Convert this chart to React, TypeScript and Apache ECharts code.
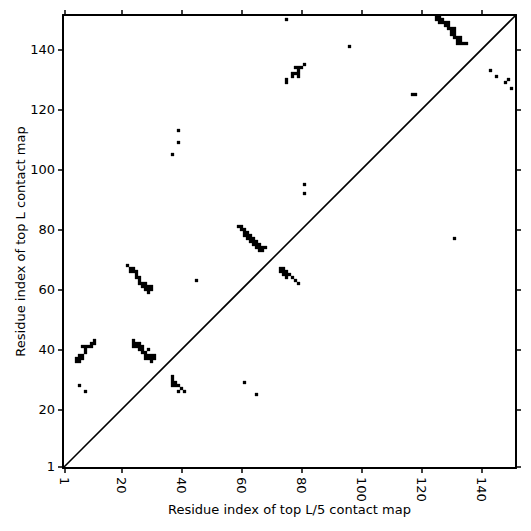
import React, { useEffect, useRef } from "react";
import * as echarts from "echarts";

// Residue count and axis range
const L = 151;
const tickValues = [1, 20, 40, 60, 80, 100, 120, 140];
const xAxisTitle = "Residue index of top L/5 contact map";
const yAxisTitle = "Residue index of top L contact map";

// Top L contacts [i, j] (i < j), drawn above the diagonal at (x=i, y=j)
const topLContacts: [number, number][] = [
  // cluster near (8, 40)
  [5, 36], [6, 36], [5, 37], [6, 37], [7, 37], [6, 38], [7, 38],
  [8, 39], [8, 40], [8, 41], [7, 41], [9, 41], [10, 41], [10, 42], [11, 42], [11, 43],
  // cluster near (27, 40)
  [24, 43], [24, 42], [25, 42], [26, 42], [24, 41], [25, 41], [26, 41], [27, 41],
  [26, 40], [27, 40], [27, 39], [28, 39], [29, 40], [28, 38], [29, 38], [30, 38],
  [28, 37], [29, 37], [30, 37], [31, 37], [31, 38], [30, 36],
  // cluster near (26, 64)
  [22, 68], [23, 67], [24, 67], [23, 66], [24, 66], [25, 66], [25, 65], [25, 64], [26, 64],
  [26, 63], [26, 62], [27, 62], [28, 62], [27, 61], [28, 61], [29, 61], [30, 61], [29, 60],
  [30, 60], [28, 60], [29, 59],
  // cluster near (63, 77)
  [59, 81], [60, 81], [60, 80], [61, 80], [61, 79], [62, 79], [61, 78], [62, 78], [63, 78],
  [62, 77], [63, 77], [64, 77], [63, 76], [64, 76], [65, 76], [64, 75], [65, 75], [66, 75],
  [65, 74], [66, 74], [67, 74], [66, 73], [67, 73], [68, 74],
  // cluster near (78, 132)
  [81, 135], [78, 134], [79, 134], [80, 134], [79, 133], [77, 132], [78, 132],
  [79, 132], [77, 131], [79, 131], [75, 130], [75, 129],
  // cluster near (130, 146)
  [125, 151], [126, 151], [125, 150], [126, 150], [127, 150], [126, 149], [127, 149],
  [128, 149], [129, 149], [128, 148], [129, 148], [129, 147], [130, 147], [131, 147],
  [130, 146], [131, 146], [130, 145], [131, 145], [131, 144], [132, 144], [133, 144],
  [132, 143], [133, 143], [132, 142], [133, 142], [134, 142], [135, 142],
  // isolated contacts
  [75, 150], [96, 141], [117, 125], [118, 125], [81, 95], [81, 92], [37, 105],
  [39, 109], [39, 113], [45, 63], [6, 28], [8, 26],
];

// Top L/5 contacts [i, j] (i < j), drawn below the diagonal at (x=j, y=i)
const topL5Contacts: [number, number][] = [
  [31, 37], [30, 37], [29, 37], [29, 38], [28, 37], [28, 38], [28, 39], [27, 40],
  [26, 39], [26, 41],
  [67, 73], [67, 74], [66, 73], [66, 74], [66, 75], [65, 75], [65, 76], [65, 74],
  [64, 75], [64, 77], [63, 78], [62, 79],
  [133, 143], [131, 145], [129, 148], [130, 149], [127, 150],
  [77, 131], [29, 61], [25, 65],
];

const FONT = "DejaVu Sans";

export default function App() {
  const ref = useRef<HTMLDivElement>(null);

  useEffect(() => {
    if (!ref.current) return;
    const chart = echarts.init(ref.current, undefined, { renderer: "svg" });

    const cells: [number, number][] = [
      ...topLContacts.map(([i, j]) => [i, j] as [number, number]),
      ...topL5Contacts.map(([i, j]) => [j, i] as [number, number]),
    ];

    const axisCommon = {
      type: "value" as const,
      min: 0.5,
      max: L + 0.5,
      splitLine: { show: false },
      axisLine: { show: true, onZero: false, lineStyle: { color: "#000", width: 2 } },
      axisTick: {
        show: true,
        customValues: tickValues,
        length: 5,
        lineStyle: { color: "#000", width: 1.5 },
      },
    };

    chart.setOption({
      animation: false,
      backgroundColor: "#fff",
      grid: { left: 63, top: 15, right: 15, bottom: 63 },
      xAxis: [
        {
          ...axisCommon,
          position: "bottom",
          axisLabel: {
            customValues: tickValues,
            rotate: -90,
            color: "#000",
            fontSize: 13,
            fontFamily: FONT,
            margin: 9,
          },
          name: xAxisTitle,
          nameLocation: "middle",
          nameGap: 35,
          nameMoveOverlap: false,
          nameTextStyle: { color: "#000", fontSize: 13, fontFamily: FONT },
        },
        {
          ...axisCommon,
          position: "top",
          axisLabel: { show: false },
        },
      ],
      yAxis: [
        {
          ...axisCommon,
          position: "left",
          axisLabel: {
            customValues: tickValues,
            color: "#000",
            fontSize: 13,
            fontFamily: FONT,
            margin: 8,
          },
          name: yAxisTitle,
          nameLocation: "middle",
          nameGap: 36,
          nameMoveOverlap: false,
          nameTextStyle: { color: "#000", fontSize: 13, fontFamily: FONT },
        },
        {
          ...axisCommon,
          position: "right",
          axisLabel: { show: false },
        },
      ],
      series: [
        {
          type: "custom",
          xAxisIndex: 0,
          yAxisIndex: 0,
          data: cells,
          renderItem: (params: any, api: any) => {
            const x = api.value(0);
            const y = api.value(1);
            const p0 = api.coord([x - 0.5, y + 0.5]);
            const p1 = api.coord([x + 0.5, y - 0.5]);
            return {
              type: "rect",
              shape: { x: p0[0], y: p0[1], width: p1[0] - p0[0], height: p1[1] - p0[1] },
              style: { fill: "#000", stroke: "#000", lineWidth: 0.3 },
            };
          },
          silent: true,
        },
        {
          type: "line",
          xAxisIndex: 0,
          yAxisIndex: 0,
          data: [
            [0.5, 0.5],
            [L + 0.5, L + 0.5],
          ],
          symbol: "none",
          lineStyle: { color: "#000", width: 1.6 },
          silent: true,
        },
      ],
    });

    return () => chart.dispose();
  }, []);

  return (
    <div
      ref={ref}
      style={{ position: "fixed", left: 0, top: 0, width: 531, height: 531, background: "#fff" }}
    />
  );
}
